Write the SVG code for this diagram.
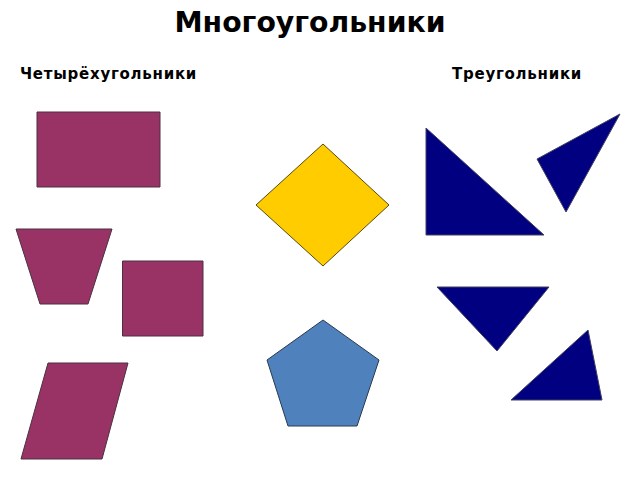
<svg xmlns="http://www.w3.org/2000/svg" width="640" height="480" viewBox="0 0 640 480">
<style>
text{font-family:"DejaVu Sans","Liberation Sans",sans-serif;font-weight:bold;fill:#000}
.s{letter-spacing:0.75px}
.q{fill:#993366;stroke:#4a3040;stroke-width:1}
.d{fill:#FFCC00;stroke:#5a4a10;stroke-width:1}
.p{fill:#4F81BD;stroke:#2a3a50;stroke-width:1}
.t{fill:#000080;stroke:#404060;stroke-width:1}
</style>
<rect width="640" height="480" fill="#fff"/>
<g id="title"><text x="310" y="32" font-size="28.3" text-anchor="middle">Многоугольники</text></g>
<g id="label-quad"><text class="s" x="20" y="79" font-size="15">Четырёхугольники</text></g>
<g id="label-tri"><text class="s" x="452" y="79" font-size="15">Треугольники</text></g>
<g id="rectangle"><polygon class="q" points="37,112 160,112 160,187 37,187"/></g>
<g id="trapezoid"><polygon class="q" points="16,229 112,229 88,304 40,304"/></g>
<g id="square"><polygon class="q" points="122.5,261 203,261 203,336 122.5,336"/></g>
<g id="parallelogram"><polygon class="q" points="48,363 128,363 102,459 21,459"/></g>
<g id="rhombus"><polygon class="d" points="323,144 389,205 323,266 256,205"/></g>
<g id="pentagon"><polygon class="p" points="323,320 379,360 357,426 288,426 267,360"/></g>
<g id="triangle1"><polygon class="t" points="426,128 426,235 544,235"/></g>
<g id="triangle2"><polygon class="t" points="537,159 620,114 566,212"/></g>
<g id="triangle3"><polygon class="t" points="437,287 549,287 497,351"/></g>
<g id="triangle4"><polygon class="t" points="588,330 602,400 511,400"/></g>
<g id="connectors"></g>
</svg>
